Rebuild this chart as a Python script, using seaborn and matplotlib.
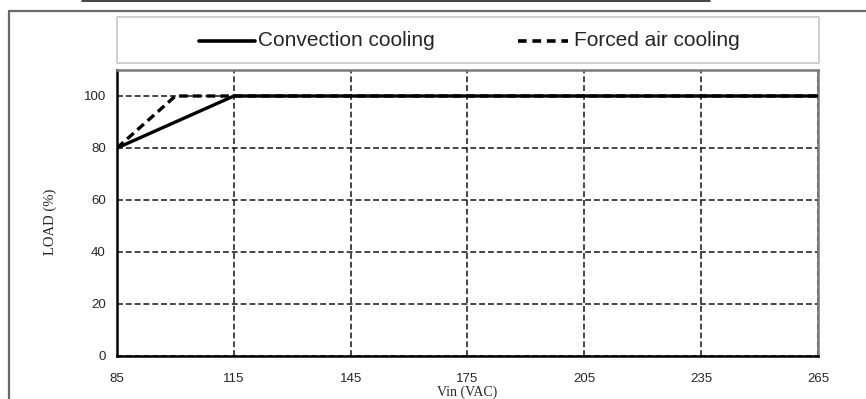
import matplotlib
matplotlib.use("Agg")
import matplotlib.pyplot as plt
from matplotlib.lines import Line2D
from matplotlib.patches import Rectangle
import pandas as pd
import seaborn as sns

# Derating curves: load (%) versus input voltage (VAC)
convection_vin = [85, 115, 265]
convection_load = [80, 100, 100]
forced_vin = [85, 100, 265]
forced_load = [80, 100, 100]
x_ticks = [85, 115, 145, 175, 205, 235, 265]
y_ticks = [0, 20, 40, 60, 80, 100]
series_names = ["Convection cooling", "Forced air cooling"]

df = pd.concat([
    pd.DataFrame({"Vin": convection_vin, "Load": convection_load, "Mode": series_names[0]}),
    pd.DataFrame({"Vin": forced_vin, "Load": forced_load, "Mode": series_names[1]}),
])

sns.set_style("white")
plt.rcParams["font.family"] = ["Liberation Sans", "DejaVu Sans"]

W, H = 866, 399
fig = plt.figure(figsize=(W / 100, H / 100), dpi=100)

# outer panel frame (left and top edges) and the rule above it
fig.add_artist(Line2D([9 / W, 9 / W], [0, 1 - 11 / H], transform=fig.transFigure,
                      color="#6a6a6a", lw=1.6))
fig.add_artist(Line2D([9 / W, 1], [1 - 11 / H, 1 - 11 / H], transform=fig.transFigure,
                      color="#6a6a6a", lw=1.6))
fig.add_artist(Line2D([82 / W, 710 / W], [1 - 0.6 / H, 1 - 0.6 / H], transform=fig.transFigure,
                      color="#222222", lw=1.2))

ax = fig.add_axes([117 / W, 1 - 356 / H, (818 - 117) / W, (356 - 70) / H])

sns.lineplot(data=df, x="Vin", y="Load", style="Mode", ax=ax, color="black",
             dashes={series_names[0]: "", series_names[1]: (2.6, 1.5)},
             linewidth=2.4, legend=False, zorder=5)

ax.set_xlim(85, 265)
ax.set_ylim(0, 110)
ax.set_xticks(x_ticks)
ax.set_yticks(y_ticks)
ax.set_xticklabels([str(v) for v in x_ticks], fontsize=9.5)
ax.set_yticklabels([str(v) for v in y_ticks], fontsize=9.5)
ax.tick_params(axis="both", length=0, pad=8)
ax.tick_params(axis="x", pad=12)

ax.grid(True, color="#262626", linestyle=(0, (3.5, 1.8)), linewidth=1.2)
for s in ["left", "bottom"]:
    ax.spines[s].set_color("black")
    ax.spines[s].set_linewidth(1.8)
for s in ["top", "right"]:
    ax.spines[s].set_color("#7a7a7a")
    ax.spines[s].set_linewidth(1.8)

ax.set_xlabel("Vin (VAC)", family=["Liberation Serif", "DejaVu Serif"], fontsize=10, labelpad=0)
ax.xaxis.set_label_coords(0.5, -0.102)
ax.set_ylabel("LOAD (%)", family=["Liberation Serif", "DejaVu Serif"], fontsize=10.5)
ax.yaxis.set_label_coords(-0.085, 0.47)

# legend box above the plot
fig.add_artist(Rectangle((117 / W, 1 - 63 / H), (819 - 117) / W, (63 - 17) / H,
                         transform=fig.transFigure, facecolor="white",
                         edgecolor="#c8c8c8", lw=1.2))
ly = 1 - 41 / H
fig.add_artist(Line2D([199 / W, 255 / W], [ly, ly], transform=fig.transFigure,
                      color="black", lw=2.6))
fig.text(258 / W, ly, series_names[0], fontsize=15, va="center", ha="left")
fig.add_artist(Line2D([518 / W, 568 / W], [ly, ly], transform=fig.transFigure,
                      color="black", lw=2.6, linestyle=(0, (2.4, 1.6))))
fig.text(574 / W, ly, series_names[1], fontsize=15, va="center", ha="left")

fig.savefig("out.png", dpi=100)
